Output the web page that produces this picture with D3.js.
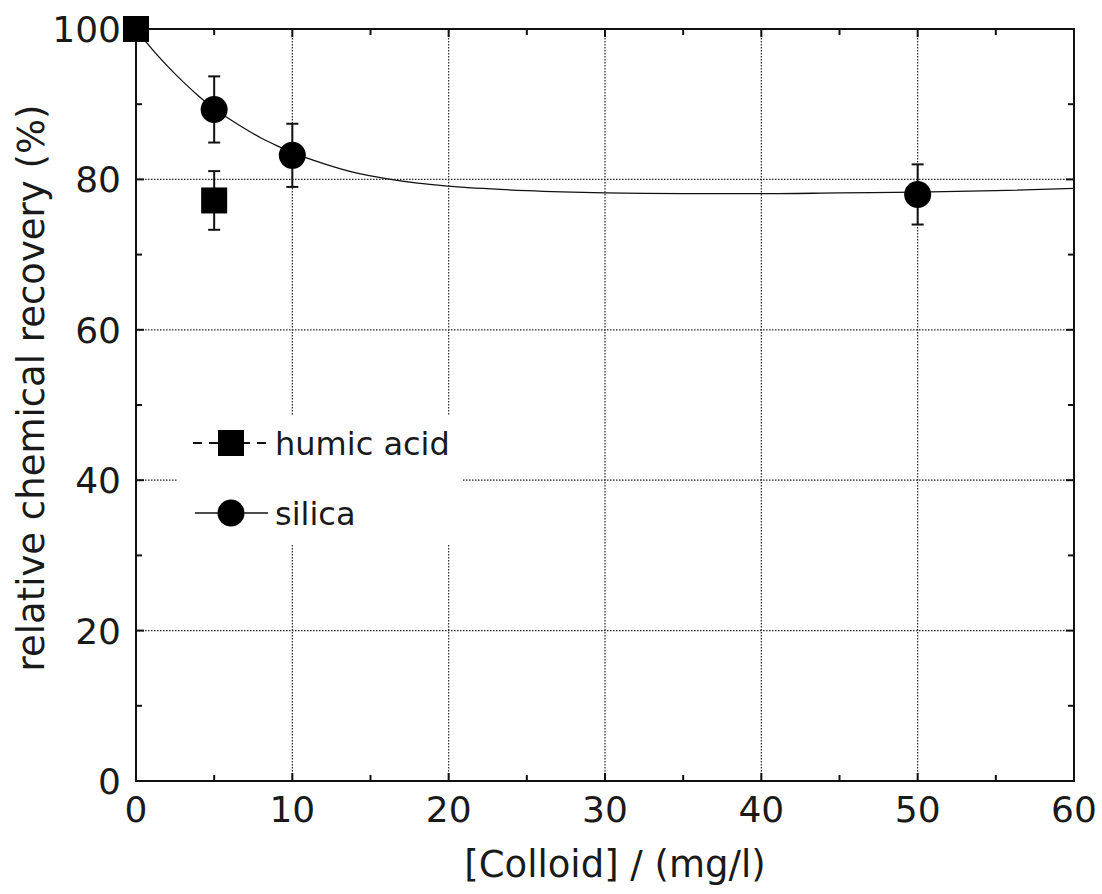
<!DOCTYPE html>
<html><head><meta charset="utf-8">
<script src="https://cdn.jsdelivr.net/npm/d3@7"></script>
<style>body{margin:0;background:#fff}svg{display:block}text{font-family:"DejaVu Sans",sans-serif;fill:#1a1a1a}</style>
</head><body>
<script>
const humicX = [0, 5];
const humicY = [100, 77.2];
const humicErr = [0, 3.9];
const silicaX = [5, 10, 50];
const silicaY = [89.3, 83.2, 78.0];
const silicaErr = [4.4, 4.2, 4.0];
const fitX = [0,1,2,3,4,5,6,7,8,9,10,12,14,16,18,20,25,30,35,40,45,50,55,60];
const fitY = [100,97.4,95.1,93.0,91.1,89.4,88.0,86.7,85.5,84.5,83.6,82.1,80.9,80.1,79.5,79.1,78.5,78.2,78.1,78.1,78.2,78.3,78.5,78.8];
const xTicks = [0,10,20,30,40,50,60];
const yTicks = [0,20,40,60,80,100];
const legendLabels = ["humic acid", "silica"];
const xTitle = "[Colloid] / (mg/l)";
const yTitle = "relative chemical recovery (%)";

const W = 1102, H = 894;
const L = 136, R = 1074, T = 29, B = 781;
const svg = d3.select("body").append("svg").attr("width", W).attr("height", H);
const x = d3.scaleLinear().domain([0, 60]).range([L, R]);
const y = d3.scaleLinear().domain([0, 100]).range([B, T]);

// grid
const grid = svg.append("g").attr("stroke", "#222").attr("stroke-width", 1.2).attr("stroke-dasharray", "1.5,1.5");
grid.selectAll(".gx").data(xTicks.slice(1, -1)).join("line")
  .attr("x1", d => x(d)).attr("x2", d => x(d)).attr("y1", T).attr("y2", B);
grid.selectAll(".gy").data(yTicks.slice(1, -1)).join("line")
  .attr("y1", d => y(d)).attr("y2", d => y(d)).attr("x1", L).attr("x2", R);

// legend background
svg.append("rect").attr("x", 177).attr("y", 415).attr("width", 285).attr("height", 130).attr("fill", "#fff");

// ticks (inner, all sides)
const tk = svg.append("g").attr("stroke", "#111").attr("stroke-width", 2);
const xMinor = d3.range(0, 61, 5);
const yMinor = d3.range(0, 101, 10);
xMinor.forEach(v => {
  const len = v % 10 === 0 ? 8 : 6;
  tk.append("line").attr("x1", x(v)).attr("x2", x(v)).attr("y1", B).attr("y2", B - len);
  tk.append("line").attr("x1", x(v)).attr("x2", x(v)).attr("y1", T).attr("y2", T + len);
});
yMinor.forEach(v => {
  const len = v % 20 === 0 ? 8 : 6;
  tk.append("line").attr("y1", y(v)).attr("y2", y(v)).attr("x1", L).attr("x2", L + len);
  tk.append("line").attr("y1", y(v)).attr("y2", y(v)).attr("x1", R).attr("x2", R - len);
});

// frame
svg.append("rect").attr("x", L).attr("y", T).attr("width", R - L).attr("height", B - T)
  .attr("fill", "none").attr("stroke", "#111").attr("stroke-width", 2);

// tick labels
svg.append("g").selectAll("text").data(xTicks).join("text")
  .attr("x", d => x(d)).attr("y", 822).attr("text-anchor", "middle")
  .attr("font-size", 36).text(d => d);
svg.append("g").selectAll("text").data(yTicks).join("text")
  .attr("x", 121).attr("y", d => y(d) + 13).attr("text-anchor", "end")
  .attr("font-size", 36).text(d => d);

// titles
svg.append("text").attr("x", 615).attr("y", 877).attr("text-anchor", "middle").attr("font-size", 37).text(xTitle);
svg.append("text").attr("transform", "translate(44,388) rotate(-90)").attr("text-anchor", "middle").attr("font-size", 37).text(yTitle);

// fit curve
const fit = fitX.map((v, i) => [v, fitY[i]]);
svg.append("path").datum(fit).attr("fill", "none").attr("stroke", "#111").attr("stroke-width", 1.3)
  .attr("d", d3.line().x(d => x(d[0])).y(d => y(d[1])).curve(d3.curveMonotoneX));

// error bars
function errBars(xs, ys, es) {
  const g = svg.append("g").attr("stroke", "#111").attr("stroke-width", 2);
  xs.forEach((v, i) => {
    if (!es[i]) return;
    const cx = x(v), y1 = y(ys[i] + es[i]), y2 = y(ys[i] - es[i]);
    g.append("line").attr("x1", cx).attr("x2", cx).attr("y1", y1).attr("y2", y2);
    g.append("line").attr("x1", cx - 6).attr("x2", cx + 6).attr("y1", y1).attr("y2", y1);
    g.append("line").attr("x1", cx - 6).attr("x2", cx + 6).attr("y1", y2).attr("y2", y2);
  });
}
errBars(silicaX, silicaY, silicaErr);
errBars(humicX, humicY, humicErr);

// markers
svg.append("g").selectAll("circle").data(silicaX).join("circle")
  .attr("cx", d => x(d)).attr("cy", (d, i) => y(silicaY[i])).attr("r", 13.5).attr("fill", "#000");
svg.append("g").selectAll("rect").data(humicX).join("rect")
  .attr("x", d => x(d) - 13).attr("y", (d, i) => y(humicY[i]) - 13).attr("width", 26).attr("height", 26).attr("fill", "#000");

// legend
const lg = svg.append("g");
lg.append("line").attr("x1", 193).attr("x2", 268).attr("y1", 443).attr("y2", 443)
  .attr("stroke", "#111").attr("stroke-width", 2).attr("stroke-dasharray", "9,7");
lg.append("rect").attr("x", 218).attr("y", 430).attr("width", 26).attr("height", 26).attr("fill", "#000");
lg.append("text").attr("x", 275).attr("y", 455).attr("font-size", 32).text(legendLabels[0]);
lg.append("line").attr("x1", 195).attr("x2", 268).attr("y1", 513).attr("y2", 513)
  .attr("stroke", "#111").attr("stroke-width", 1.5);
lg.append("circle").attr("cx", 231).attr("cy", 513).attr("r", 13.5).attr("fill", "#000");
lg.append("text").attr("x", 275).attr("y", 525).attr("font-size", 32).text(legendLabels[1]);
</script>
</body></html>
